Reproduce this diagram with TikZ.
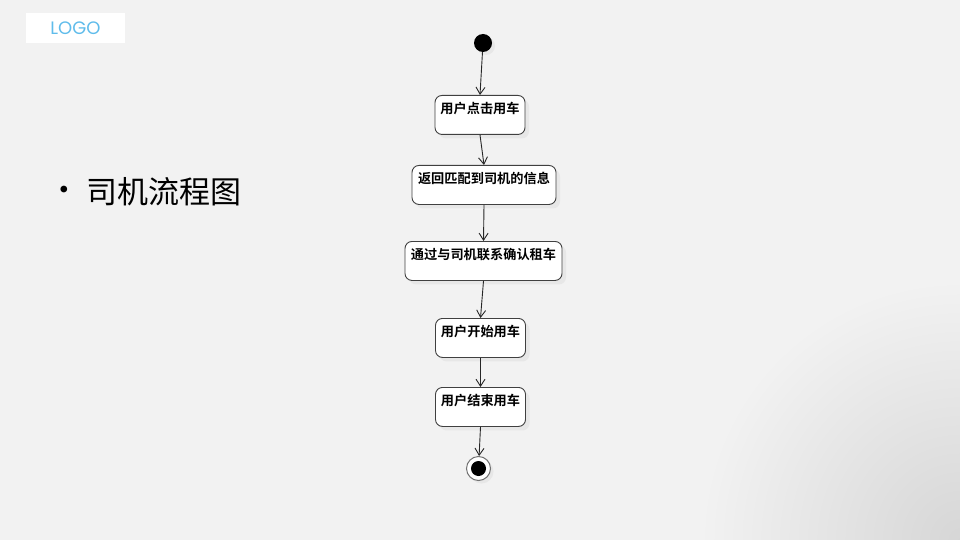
\documentclass[tikz,border=0pt]{standalone}
\usepackage{fontspec}
\newfontfamily\cjk{Noto Sans CJK SC}
\newfontfamily\cjkb{Noto Sans CJK SC}[UprightFont=* Bold]
\newfontfamily\logofont{Poppins}
\usetikzlibrary{arrows.meta,shadows}
\definecolor{bg}{HTML}{F2F2F2}
\definecolor{logoblue}{RGB}{95,188,235}
\tikzset{
  act/.style={draw=black!75, line width=0.9pt, rounded corners=7pt, fill=white,
    anchor=north, minimum height=39pt, inner xsep=2pt, inner ysep=4pt,
    text height=13.5pt, text depth=17pt, font=\cjkb\fontsize{13.2}{14}\selectfont,
    drop shadow={shadow xshift=4pt, shadow yshift=-4pt, fill=black!12, opacity=0.6}},
  flow/.style={draw=black!85, line width=0.9pt, -{Straight Barb[length=7pt,width=9pt]}},
  startdot/.style={circle, fill=black, minimum size=18pt, inner sep=0pt,
    drop shadow={shadow xshift=3pt, shadow yshift=-3pt, fill=black!12, opacity=0.6}},
  endring/.style={circle, draw=black!55, line width=1pt, fill=white, minimum size=24pt, inner sep=0pt,
    drop shadow={shadow xshift=3pt, shadow yshift=-3pt, fill=black!12, opacity=0.6}},
  enddot/.style={circle, fill=black, minimum size=15pt, inner sep=0pt}
}
\begin{document}
\begin{tikzpicture}[x=1pt,y=-1pt]
\useasboundingbox (0,0) rectangle (960,540);
\fill[bg] (0,0) rectangle (960,540);
\begin{scope}
\clip (0,0) rectangle (960,540);
\shade[inner color=black!16, outer color=bg] (960,540) circle (260);
\end{scope}
% logo
\fill[white] (26,13) rectangle (125,43);
\node[font=\logofont\fontsize{18}{19}\selectfont, text=logoblue] (logo) at (75.5,28.5) {LOGO};
% title
\node[font=\fontsize{30}{30}\selectfont] (bul) at (64,192) {\textbullet};
\node[font=\cjk\fontsize{31}{32}\selectfont, anchor=west] (title) at (83,192) {司机流程图};
% flow
\node[startdot] (s) at (483,43) {};
\node[act, minimum width=90pt] (a1) at (480,95) {用户点击用车};
\node[act, minimum width=144pt] (a2) at (484,165) {返回匹配到司机的信息};
\node[act, minimum width=157pt] (a3) at (483.5,241) {通过与司机联系确认租车};
\node[act, minimum width=90pt] (a4) at (480.5,318) {用户开始用车};
\node[act, minimum width=90pt] (a5) at (480.5,387) {用户结束用车};
\node[endring] (e) at (478.5,468.5) {};
\node[enddot] (ei) at (e) {};
\draw[flow] (s) -- (a1.north);
\draw[flow] (a1.south) -- (a2.north);
\draw[flow] (a2.south) -- (a3.north);
\draw[flow] (a3.south) -- (a4.north);
\draw[flow] (a4.south) -- (a5.north);
\draw[flow] (a5.south) -- (e);
\end{tikzpicture}
\end{document}
